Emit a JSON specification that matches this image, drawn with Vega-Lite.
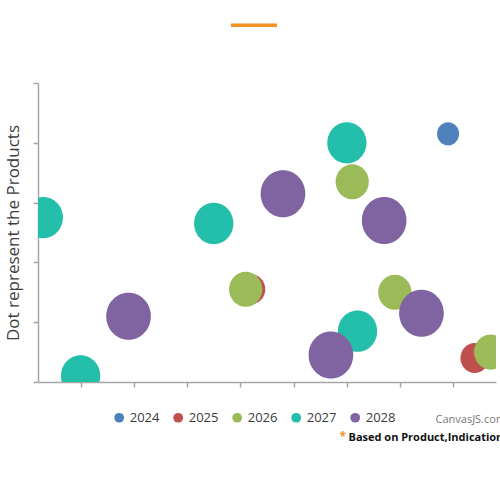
{
  "$schema": "https://vega.github.io/schema/vega-lite/v6.json",
  "width": 458,
  "height": 299,
  "autosize": {"type": "none"},
  "padding": {"left": 38, "top": 83, "right": 4, "bottom": 118},
  "background": "white",
  "config": {"view": {"stroke": null}, "font": "Open Sans"},
  "title": {
    "text": "—",
    "color": "#f39425",
    "font": "Open Sans",
    "fontSize": 50,
    "fontWeight": "normal",
    "anchor": "middle",
    "frame": "group",
    "baseline": "middle",
    "dx": -13,
    "offset": 8
  },
  "data": {
    "values": [
      {"year": "2024", "x": 79, "y": 83, "z": 5.4},
      {"year": "2025", "x": 42, "y": 31, "z": 9},
      {"year": "2025", "x": 84, "y": 8, "z": 9},
      {"year": "2026", "x": 41, "y": 31, "z": 12.3},
      {"year": "2026", "x": 61, "y": 67, "z": 12.3},
      {"year": "2026", "x": 69, "y": 30, "z": 12.3},
      {"year": "2026", "x": 87, "y": 10, "z": 12.3},
      {"year": "2027", "x": 3, "y": 55, "z": 17.1},
      {"year": "2027", "x": 10, "y": 2, "z": 17.1},
      {"year": "2027", "x": 35, "y": 53, "z": 17.1},
      {"year": "2027", "x": 60, "y": 80, "z": 17.1},
      {"year": "2027", "x": 62, "y": 17, "z": 17.1},
      {"year": "2028", "x": 19, "y": 22, "z": 22.1},
      {"year": "2028", "x": 48, "y": 63, "z": 22.1},
      {"year": "2028", "x": 67, "y": 54, "z": 22.1},
      {"year": "2028", "x": 74, "y": 23, "z": 22.1},
      {"year": "2028", "x": 57, "y": 9, "z": 22.1}
    ]
  },
  "layer": [
    {
      "transform": [{"filter": {"field": "year", "oneOf": ["2024", "2025", "2026"]}}],
      "mark": {
        "type": "point",
        "filled": true,
        "opacity": 1,
        "strokeWidth": 0,
        "clip": true,
        "shape": "M-0.95,0A0.95,1,0,1,0,0.95,0A0.95,1,0,1,0,-0.95,0Z"
      },
      "encoding": {
        "x": {
          "field": "x",
          "type": "quantitative",
          "scale": {"domain": [2, 88], "nice": false, "zero": false},
          "axis": {
            "orient": "bottom",
            "values": [10, 20, 30, 40, 50, 60, 70, 80],
            "labels": false,
            "grid": false,
            "domainColor": "#a6a6a6",
            "domainWidth": 1.5,
            "tickColor": "#a6a6a6",
            "tickWidth": 1.5,
            "tickSize": 5,
            "title": "CanvasJS.com",
            "titleFont": "Open Sans",
            "titleFontSize": 11,
            "titleFontWeight": "normal",
            "titleColor": "#777777",
            "titleAngle": 0,
            "titleAlign": "left",
            "titleBaseline": "alphabetic",
            "titleX": 397,
            "titleY": 40.5
          }
        },
        "y": {
          "field": "y",
          "type": "quantitative",
          "scale": {"domain": [0, 100], "nice": false, "zero": false},
          "axis": {
            "orient": "left",
            "values": [0, 20, 40, 60, 80, 100],
            "labels": false,
            "grid": false,
            "domainColor": "#a6a6a6",
            "domainWidth": 1.5,
            "tickColor": "#a6a6a6",
            "tickWidth": 1.5,
            "tickSize": 5,
            "title": "Dot represent the Products",
            "titleFont": "Open Sans",
            "titleFontSize": 17,
            "titleFontWeight": "normal",
            "titleColor": "#3d3d3d",
            "titleAngle": -90,
            "titleAlign": "center",
            "titleBaseline": "alphabetic",
            "titleX": -20,
            "titleY": 149.5
          }
        },
        "color": {
          "field": "year",
          "type": "nominal",
          "scale": {
            "domain": ["2024", "2025", "2026", "2027", "2028"],
            "range": ["#4F81BC", "#C0504E", "#9BBB58", "#23BFAA", "#8064A1"]
          },
          "legend": {
            "orient": "none",
            "legendX": 74.7,
            "legendY": 328,
            "direction": "horizontal",
            "columns": 5,
            "title": null,
            "symbolType": "circle",
            "symbolSize": 95,
            "symbolStrokeWidth": 0,
            "symbolOpacity": 1,
            "labelFont": "Open Sans",
            "labelFontSize": 13,
            "labelColor": "#3a3a3a",
            "labelOffset": 4,
            "columnPadding": 12
          }
        },
        "size": {
          "field": "z",
          "type": "quantitative",
          "scale": {"domain": [0, 22.1], "range": [0, 2209], "zero": true, "nice": false},
          "legend": null
        }
      }
    },
    {
      "transform": [{"filter": {"field": "year", "oneOf": ["2027", "2028"]}}],
      "mark": {
        "type": "point",
        "filled": true,
        "opacity": 1,
        "strokeWidth": 0,
        "clip": true,
        "shape": "M-0.95,0A0.95,1,0,1,0,0.95,0A0.95,1,0,1,0,-0.95,0Z"
      },
      "encoding": {
        "x": {
          "field": "x",
          "type": "quantitative",
          "axis": {
            "orient": "bottom",
            "domain": false,
            "ticks": false,
            "labels": false,
            "grid": false,
            "title": "Based on Product,Indication",
            "titleFont": "Open Sans",
            "titleFontSize": 11,
            "titleFontWeight": "bold",
            "titleColor": "#111111",
            "titleAngle": 0,
            "titleAlign": "left",
            "titleBaseline": "alphabetic",
            "titleX": 310,
            "titleY": 58
          }
        },
        "y": {
          "field": "y",
          "type": "quantitative",
          "axis": {
            "orient": "left",
            "domain": false,
            "ticks": false,
            "labels": false,
            "grid": false,
            "title": "*",
            "titleFont": "Open Sans",
            "titleFontSize": 12,
            "titleFontWeight": "bold",
            "titleColor": "#f39425",
            "titleAngle": 0,
            "titleAlign": "left",
            "titleBaseline": "alphabetic",
            "titleX": 301,
            "titleY": 357
          }
        },
        "color": {"field": "year", "type": "nominal"},
        "size": {"field": "z", "type": "quantitative", "legend": null}
      }
    }
  ],
  "resolve": {"axis": {"x": "independent", "y": "independent"}}
}
